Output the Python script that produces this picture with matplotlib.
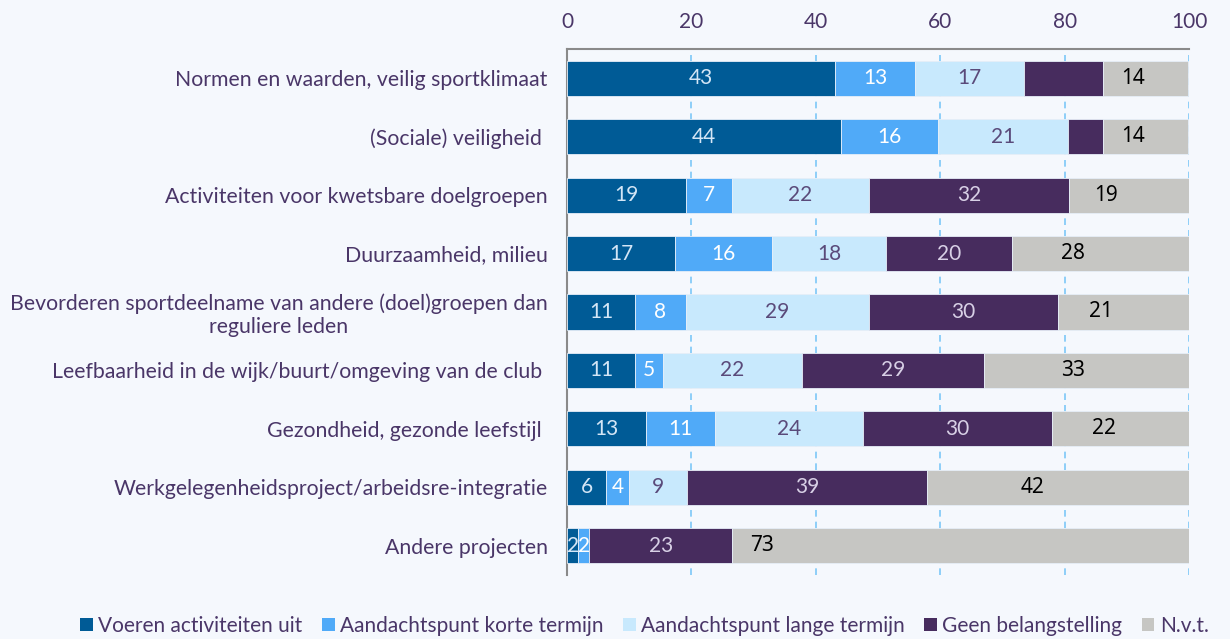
import matplotlib
matplotlib.use("Agg")
import matplotlib.pyplot as plt
from matplotlib.patches import Patch

categories = [
    "Normen en waarden, veilig sportklimaat",
    "(Sociale) veiligheid ",
    "Activiteiten voor kwetsbare doelgroepen",
    "Duurzaamheid, milieu",
    "Bevorderen sportdeelname van andere (doel)groepen dan\nreguliere leden",
    "Leefbaarheid in de wijk/buurt/omgeving van de club ",
    "Gezondheid, gezonde leefstijl ",
    "Werkgelegenheidsproject/arbeidsre-integratie",
    "Andere projecten",
]
series_names = ["Voeren activiteiten uit", "Aandachtspunt korte termijn",
                "Aandachtspunt lange termijn", "Geen belangstelling", "N.v.t."]
voeren = [43.1, 44.0, 19.1, 17.4, 10.9, 10.9, 12.7, 6.3, 1.8]
korte = [12.9, 15.6, 7.4, 15.6, 8.2, 4.6, 11.1, 3.7, 1.8]
lange = [17.4, 21.0, 22.0, 18.3, 29.4, 22.2, 23.8, 9.3, 0.0]
geen = [12.7, 5.5, 32.2, 20.3, 30.4, 29.4, 30.4, 38.6, 23.0]
nvt = [13.8, 13.8, 19.3, 28.5, 21.1, 33.0, 22.0, 42.3, 73.4]
# which value labels are shown for "Geen belangstelling"
geen_labeled = [False, False, True, True, True, True, True, True, True]
xticks = [0, 20, 40, 60, 80, 100]

# label placement of the N.v.t. values as drawn in the original (styling)
nvt_label_x = [91.0, 91.0, 86.7, 81.4, 85.9, 81.4, 86.3, 74.9, 31.3]

colors = ["#005b96", "#50aaf8", "#c8e9fd", "#472c5e", "#c6c6c3"]
label_colors = ["#d4e6f6", "#ffffff", "#5a4a7a", "#d8d0e6", "#000000"]
bg = "#f5f8fd"
txt = "#4a3668"
FS = 15.3

plt.rcParams['font.family'] = ['Lato', 'DejaVu Sans']

fig = plt.figure(figsize=(12.3, 6.39), dpi=100, facecolor=bg)
ax = fig.add_axes([0.461, 0.1002, 0.5057, 0.8231], facecolor=bg)

series = [voeren, korte, lange, geen, nvt]
y = list(range(len(categories)))
left = [0.0] * len(categories)
for si, vals in enumerate(series):
    ax.barh(y, vals, left=left, height=0.6, color=colors[si],
            edgecolor="#e6eef8", linewidth=0.6, zorder=3)
    for i, v in enumerate(vals):
        show = v > 0
        if si == 3 and not geen_labeled[i]:
            show = False
        if not show:
            continue
        if si == 4:
            ax.text(nvt_label_x[i], i, f"{round(v):d}", ha="center", va="center",
                    fontsize=15, color=label_colors[si], zorder=4,
                    family=["Noto Sans", "DejaVu Sans"])
        else:
            ax.text(left[i] + v / 2, i, f"{round(v):d}", ha="center", va="center",
                    fontsize=15, color=label_colors[si], zorder=4)
    left = [l + v for l, v in zip(left, vals)]

ax.set_xlim(0, 100)
ax.set_ylim(len(categories) - 0.5, -0.5)
ax.xaxis.tick_top()
ax.set_xticks(xticks)
ax.set_xticklabels([str(t) for t in xticks], fontsize=15, color=txt)
ax.tick_params(axis="x", length=0, pad=12)
ax.set_yticks(y)
ax.set_yticklabels(categories, fontsize=FS, color=txt, ha="right")
ax.tick_params(axis="y", length=0, pad=14)
for t in ax.get_yticklabels():
    t.set_multialignment("center")

ax.grid(axis="x", color="#7cc7f7", linestyle=(0, (4, 3)), linewidth=1.2, zorder=0)
ax.set_axisbelow(True)
for s in ["right", "bottom"]:
    ax.spines[s].set_visible(False)
for s in ["left", "top"]:
    ax.spines[s].set_color("#8a8a8a")
    ax.spines[s].set_linewidth(1.5)

handles = [Patch(facecolor=c, edgecolor="none") for c in colors]
fig.legend(handles, series_names, loc="center", bbox_to_anchor=(0.524, 0.02),
           ncol=5, frameon=False, fontsize=15, labelcolor=txt,
           handlelength=0.6, handleheight=0.6, handletextpad=0.25,
           columnspacing=0.95)

fig.savefig("out.png", dpi=100, facecolor=bg)
